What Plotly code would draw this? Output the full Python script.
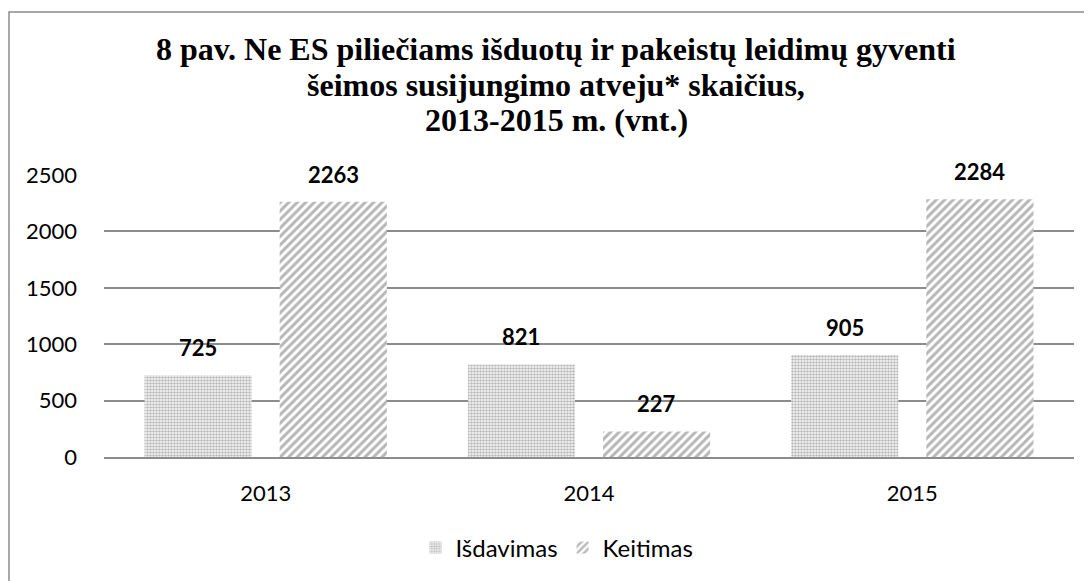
import plotly.graph_objects as go

years = ["2013", "2014", "2015"]
isdavimas = [725, 821, 905]
keitimas = [2263, 227, 2284]
series_names = ["Išdavimas", "Keitimas"]
y_ticks = [0, 500, 1000, 1500, 2000, 2500]
title_lines = [
    "8 pav. Ne ES piliečiams išduotų ir pakeistų leidimų gyventi",
    "šeimos susijungimo atveju* skaičius,",
    "2013-2015 m. (vnt.)",
]

OFF = 8  # page body margin
W, H = 1092 - OFF, 581 - OFF
L, R, T, B = 104 - OFF, 18, 175 - OFF, 124
plot_h = H - T - B
plot_w = W - L - R


def py(p):  # page pixel y -> paper
    return (H - B - (p - OFF)) / plot_h


def px(p):  # page pixel x -> paper
    return ((p - OFF) - L) / plot_w


SANS = "Lato, Calibri, sans-serif"
label_font = dict(family=SANS, size=22, color="#000000")

fig = go.Figure()
fig.add_trace(go.Bar(
    x=years, y=isdavimas, name=series_names[0],
    marker=dict(color="white", line=dict(width=0),
                pattern=dict(shape=".", fgcolor="#767676", bgcolor="#ffffff",
                             size=3, solidity=0.6, fillmode="overlay")),
))
fig.add_trace(go.Bar(
    x=years, y=keitimas, name=series_names[1],
    marker=dict(color="white", line=dict(width=0),
                pattern=dict(shape="/", fgcolor="#6e6e6e", bgcolor="#ffffff",
                             size=6, solidity=0.5, fillmode="overlay")),
))

# data labels anchored to the data values, shifted onto their bar in the group
cat_px = plot_w / len(years)
bargap, bargroupgap = 0.164, 0.207
slot = cat_px * (1 - bargap) / 2
for vals, sgn in ((isdavimas, -1), (keitimas, 1)):
    for i, v in enumerate(vals):
        fig.add_annotation(
            x=i, y=v, xref="x", yref="y", text=f"<b>{v}</b>",
            showarrow=False, xanchor="center", yanchor="bottom",
            xshift=sgn * slot / 2, yshift=12, font=label_font,
        )

title_y = [49, 85, 120]
for line, yy in zip(title_lines, title_y):
    fig.add_annotation(
        text=f"<b>{line}</b>", xref="paper", yref="paper",
        x=px(556), y=py(yy), xanchor="center", yanchor="middle",
        showarrow=False,
        font=dict(family="Liberation Serif, Times New Roman, serif", size=32, color="#000000"),
    )

fig.add_shape(type="rect", xref="paper", yref="paper",
              x0=px(9), x1=px(1105), y0=py(600), y1=py(12),
              line=dict(color="#8c8c8c", width=1.5), fillcolor="rgba(0,0,0,0)",
              layer="below")

fig.update_layout(
    width=W, height=H,
    margin=dict(l=L, r=R, t=T, b=B, autoexpand=False),
    paper_bgcolor="white", plot_bgcolor="white",
    barmode="group", bargap=bargap, bargroupgap=bargroupgap,
    showlegend=True,
    legend=dict(orientation="h", x=px(557), xanchor="center", y=py(548), yanchor="middle",
                font=dict(family=SANS, size=24, color="#000000"),
                itemwidth=30, traceorder="normal"),
)
fig.update_yaxes(range=[0, 2500], tickvals=y_ticks, showgrid=True,
                 gridcolor="#8c8c8c", gridwidth=1.5, zeroline=False,
                 showline=False, ticks="", ticklabelstandoff=26,
                 tickfont=dict(family=SANS, size=22, color="#000000"))
fig.update_xaxes(type="category", categoryorder="array", categoryarray=years,
                 range=[-0.5, len(years) - 0.5],
                 showline=True, linecolor="#8c8c8c", linewidth=1.5, ticks="",
                 showgrid=False, ticklabelstandoff=16,
                 tickfont=dict(family=SANS, size=22, color="#000000"))

fig.write_html("out.html")
